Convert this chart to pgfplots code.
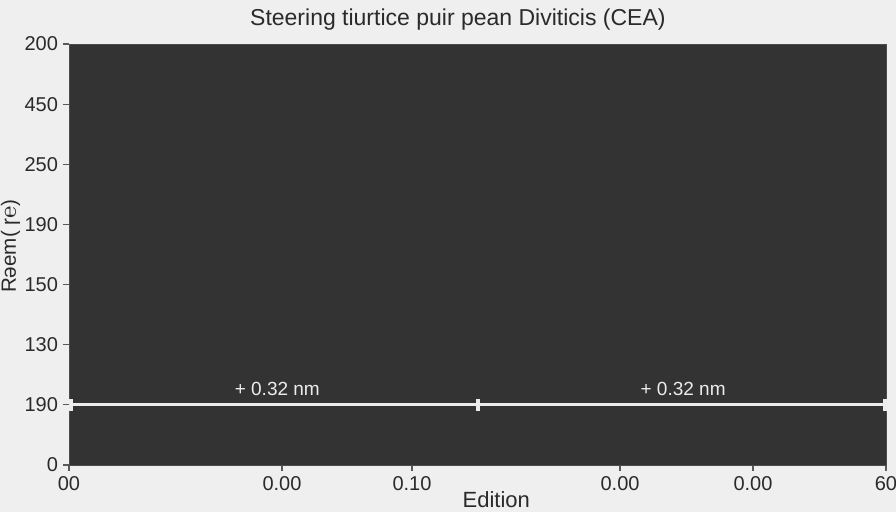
\documentclass[border=0pt]{standalone}
\usepackage{pgfplots}
\pgfplotsset{compat=1.18}
\usepackage{fontspec}
\setmainfont{Liberation Sans}
\definecolor{pagebg}{HTML}{EFEFEF}
\definecolor{plotbg}{HTML}{333333}
\definecolor{txt}{HTML}{2A2A2A}
\definecolor{linec}{HTML}{ECECEC}
\begin{document}
\begin{tikzpicture}
\path[use as bounding box, fill=pagebg] (-34.5pt,-23.5pt) rectangle (413.5pt,232.5pt);
\begin{axis}[
  at={(0,0)}, anchor=south west,
  scale only axis, width=408.5pt, height=210.5pt,
  clip=false,
  axis background/.style={fill=plotbg},
  axis line style={draw=black!70},
  xmin=0, xmax=60, ymin=0, ymax=7,
  xtick={0,15.64,25.19,40.47,50.23,60},
  xticklabels={00,0.00,0.10,0.00,0.00,60},
  ytick={0,1,2,3,4,5,6,7},
  yticklabels={0,190,130,150,190,250,450,200},
  tick align=outside, major tick length=3pt,
  tick style={draw=black!65, line width=0.6pt},
  xtick pos=bottom, ytick pos=left,
  /pgf/number format/assume math mode=true,
  tick label style={font=\fontsize{10}{11}\selectfont, text=txt},
  xticklabel style={yshift=1pt},
  yticklabel style={xshift=1pt},
  title={Steering tiurtice puir pean Diviticis (CEA)},
  title style={at={(axis description cs:0.476,1)}, anchor=center, yshift=6pt,
    font=\fontsize{11.5}{13}\selectfont, text=txt},
  xlabel={Edition},
  xlabel style={at={(axis description cs:0.523,0)}, anchor=center, yshift=-17.5pt,
    font=\fontsize{11}{12}\selectfont, text=txt},
  ylabel={Rəem( ɼ℮)},
  ylabel style={at={(axis description cs:-0.0715,0.52)}, anchor=center,
    font=\fontsize{10.3}{11}\selectfont, text=txt},
]
\addplot[linec, line width=1.5pt, mark=|,
  mark options={line width=2pt, mark size=3pt, draw=linec}]
  coordinates {(0.15,1) (30,1) (59.9,1)};
\node[text=linec, font=\fontsize{9.5}{10}\selectfont] at (axis cs:15.3,1.27) {+ 0.32 nm};
\node[text=linec, font=\fontsize{9.5}{10}\selectfont] at (axis cs:45.1,1.27) {+ 0.32 nm};
\end{axis}
\end{tikzpicture}
\end{document}
